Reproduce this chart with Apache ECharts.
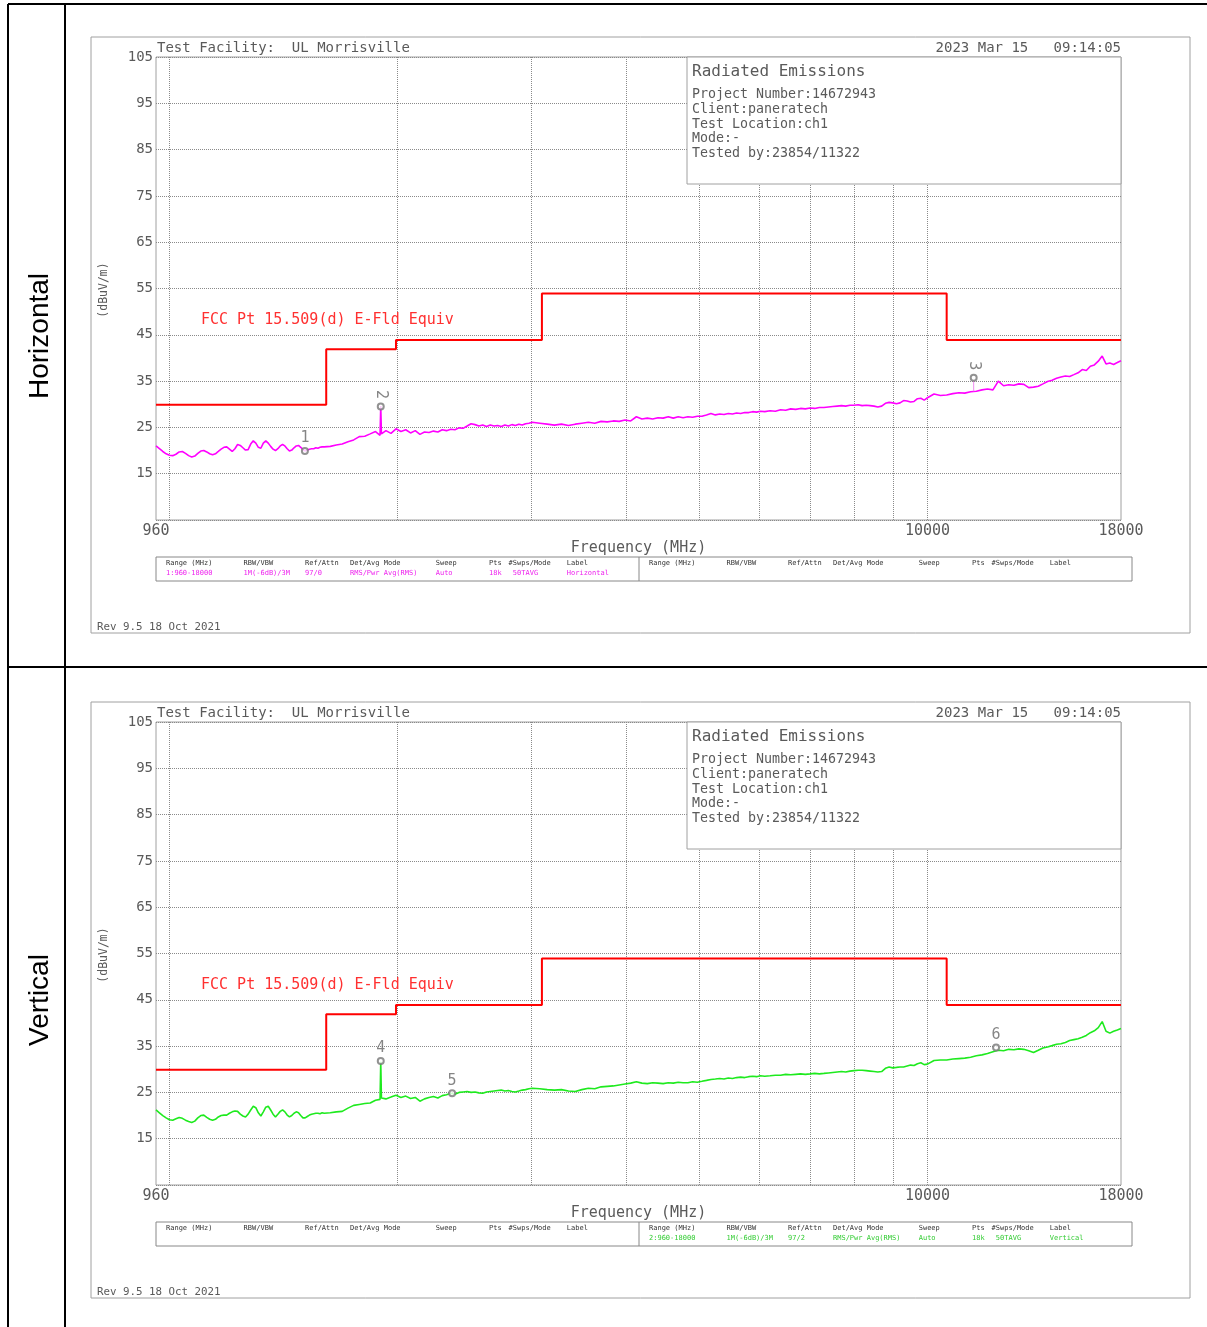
<!DOCTYPE html>
<html><head><meta charset="utf-8">
<script src="https://cdn.jsdelivr.net/npm/echarts@6/dist/echarts.min.js"></script>
<style>html,body{margin:0;padding:0;background:#fff}#c{width:1207px;height:1327px}</style>
</head><body><div id="c"></div>
<script>
// ---------- DATA ----------
const FREQ_A = [960,970,980,990,1000,1010,1020,1030,1040,1050,1060,1070,1080,1090,1100,1110,1120,1130,1140,1150,1160,1170,1180,1190,1200,1210,1220,1230,1240,1250,1260,1270,1280,1290,1300,1310,1320,1330,1340,1350,1360,1370,1380,1390,1400,1410,1420,1430,1440,1450,1460,1470,1480,1490,1500,1510,1520,1530,1540,1550,1560,1570,1580,1590,1600];
const H_A = [21.0,20.4,19.8,19.3,19.0,18.9,19.2,19.7,19.8,19.4,18.9,18.6,18.8,19.4,19.9,20.0,19.7,19.3,19.1,19.3,19.8,20.3,20.7,20.8,20.3,19.8,20.4,21.3,21.1,20.6,20.1,20.2,21.4,22.1,21.6,20.7,20.5,21.6,22.1,21.6,20.9,20.3,20.0,20.4,21.0,21.3,21.0,20.4,19.9,20.1,20.6,21.0,21.1,20.7,20.2,19.9,20.1,20.3,20.4,20.4,20.6,20.5,20.7,20.8,20.8];
const V_A = [21.2,20.6,20.0,19.5,19.1,19.0,19.3,19.6,19.4,19.0,18.7,18.5,18.8,19.5,20.0,20.1,19.6,19.2,19.0,19.2,19.7,20.0,20.1,20.1,20.5,20.8,21.0,20.9,20.3,19.9,19.7,20.3,21.2,22.0,21.7,20.6,19.9,20.8,21.8,22.0,21.2,20.3,19.7,20.3,20.9,21.2,20.8,20.1,19.7,20.0,20.5,20.8,20.6,20.0,19.5,19.5,19.8,20.1,20.3,20.4,20.5,20.5,20.4,20.6,20.5];

const FREQ_B = [1630,1660,1690,1720,1750,1780,1810,1840,1870,1896,1900,1904,1930,1960,1990,2020,2050,2080,2110,2140,2170,2200,2230,2260,2290,2320,2350,2380,2410,2440,2470,2500,2530,2560,2590,2620,2650,2680,2710,2740,2770,2800,2830,2860,2890,2920,2950,2980,3010];
const H_B = [20.9,21.2,21.4,21.9,22.3,23.0,23.1,23.6,24.1,23.3,29.6,23.6,24.3,23.7,24.7,24.1,24.5,23.8,24.3,23.5,24.0,23.9,24.2,24.0,24.5,24.3,24.6,24.5,24.9,24.8,25.3,25.8,25.6,25.3,25.5,25.2,25.5,25.3,25.4,25.2,25.5,25.3,25.6,25.4,25.7,25.5,25.8,25.9,26.1];
const V_B = [20.6,20.8,20.9,21.6,22.2,22.4,22.6,22.7,23.3,23.5,31.6,23.8,23.6,24.0,24.4,23.9,24.2,23.7,23.9,23.1,23.6,23.9,24.1,23.8,24.3,24.5,24.8,24.6,25.0,25.1,25.2,25.0,25.1,24.9,24.8,25.1,25.2,25.3,25.4,25.5,25.3,25.4,25.2,25.1,25.3,25.5,25.6,25.8,25.9];

const FREQ_C = [3080,3150,3220,3290,3360,3430,3500,3570,3640,3710,3780,3850,3920,3990,4060,4130,4200,4270,4340,4410,4480,4550,4620,4690,4760,4830,4900,4970,5040,5110,5180,5250,5320,5390,5460,5530,5600,5670,5740,5810,5880,5950,6020];
const H_C = [25.9,25.7,25.5,25.7,25.4,25.7,25.9,26.1,25.9,26.3,26.2,26.4,26.3,26.6,26.4,27.3,26.8,27.0,26.8,27.1,27.0,27.3,27.0,27.3,27.1,27.3,27.2,27.4,27.4,27.7,28.0,27.7,27.9,27.8,28.0,27.9,28.1,28.0,28.2,28.2,28.4,28.3,28.5];
const V_C = [25.8,25.6,25.5,25.6,25.3,25.2,25.6,25.9,25.8,26.2,26.3,26.4,26.6,26.8,27.0,27.3,27.0,26.9,27.1,27.0,26.9,27.1,27.0,27.2,27.1,27.1,27.3,27.2,27.4,27.6,27.8,27.9,28.0,27.9,28.1,28.0,28.2,28.3,28.2,28.4,28.5,28.4,28.6];

const FREQ_D = [6100,6200,6300,6400,6500,6600,6700,6800,6900,7000,7100,7200,7300,7400,7500,7600,7700,7800,7900,8000,8100,8200,8300,8400,8500,8600,8700,8800,8900,9000,9100,9200,9300,9400,9500,9600,9700,9800,9900,10000];
const H_D = [28.4,28.6,28.5,28.8,28.7,29.0,28.9,29.1,29.0,29.2,29.1,29.3,29.3,29.4,29.5,29.6,29.7,29.6,29.8,29.8,29.9,29.7,29.8,29.7,29.6,29.4,29.6,30.2,30.4,30.3,30.1,30.3,30.8,30.7,30.5,30.6,31.2,31.3,30.9,31.4];
const V_D = [28.5,28.6,28.7,28.7,28.9,28.8,28.9,29.0,28.9,29.0,29.1,29.0,29.1,29.2,29.3,29.4,29.5,29.4,29.6,29.7,29.8,29.8,29.7,29.6,29.5,29.4,29.5,30.2,30.5,30.3,30.4,30.5,30.5,30.7,30.9,30.8,31.2,31.4,31.0,31.1];

const FREQ_E = [10200,10400,10600,10800,11000,11200,11400,11600,11800,12000,12200,12400,12600,12800,13000,13200,13400,13600,13800,14000,14200,14400,14600,14800,15000,15200,15400,15600,15800,16000,16200,16400,16600,16800,17000,17200,17400,17600,17800,18000];
const H_E = [32.2,31.9,32.0,32.3,32.5,32.4,32.7,32.8,33.1,33.3,33.1,35.0,34.0,34.2,34.1,34.4,34.3,33.6,33.7,33.9,34.4,34.9,35.2,35.6,35.9,36.1,36.0,36.4,36.8,37.5,37.3,38.2,38.5,39.3,40.4,38.7,38.9,38.6,39.0,39.4];
const V_E = [31.9,32.0,32.0,32.2,32.3,32.4,32.6,32.9,33.1,33.4,33.8,34.1,34.0,34.3,34.2,34.4,34.3,34.0,33.6,34.1,34.6,34.8,35.1,35.4,35.5,35.8,36.2,36.4,36.6,36.9,37.3,37.9,38.3,39.0,40.3,38.2,37.8,38.2,38.5,38.8];

// FCC Pt 15.509(d) limit (value applies from each frequency up to the next)
const LIMIT_FREQ = [960,1610,1990,3100,10600,18000];
const LIMIT_DB   = [29.9,41.9,43.9,53.9,43.9,43.9];

const GRID_FREQS = [1000,2000,3000,4000,5000,6000,7000,8000,9000,10000];
const X_LABELS = [960,10000,18000];
const Y_MIN = 5, Y_MAX = 105, Y_STEP = 10;

const MARKERS_H = [['1',1509,19.9],['2',1900,29.5],['3',11506,35.7]];
const MARKERS_V = [['4',1900,31.8],['5',2360,24.8],['6',12316,34.7]];
const STEM_H3 = [[11506,35.2],[11506,32.8]];

const TABLE_HEAD = ['Range (MHz)','RBW/VBW','Ref/Attn','Det/Avg Mode','Sweep','Pts','#Swps/Mode','Label'];
const TABLE_H = ['1:960-18000','1M(-6dB)/3M','97/0','RMS/Pwr Avg(RMS)','Auto','18k',' 50TAVG','Horizontal'];
const TABLE_V = ['2:960-18000','1M(-6dB)/3M','97/2','RMS/Pwr Avg(RMS)','Auto','18k',' 50TAVG','Vertical'];

const INFO_LINES = ['Project Number:14672943','Client:paneratech','Test Location:ch1','Mode:-','Tested by:23854/11322'];

// ---------- BUILD ----------
const FREQ = FREQ_A.concat(FREQ_B, FREQ_C, FREQ_D, FREQ_E);
const HV = H_A.concat(H_B, H_C, H_D, H_E);
const VV = V_A.concat(V_B, V_C, V_D, V_E);
if (FREQ.length !== HV.length || FREQ.length !== VV.length) console.error('length mismatch', FREQ.length, HV.length, VV.length);
const zip = (xs, ys) => xs.map((x, i) => [x, ys[i]]);

const MONO = 'DejaVu Sans Mono';
const TXT = '#5a5a5a';
const MAG = '#ff00ff', GRN = '#1eea1e', RED = '#ff0000';
const PANEL_DY = [0, 665];

function txt(x, y, s, size, color, extra) {
  return Object.assign({
    type: 'text', x: x, y: y, z: 100,
    style: Object.assign({ text: s, font: size + 'px "' + MONO + '"', fill: color || TXT,
      align: 'left', verticalAlign: 'middle', textAlign: 'left', textVerticalAlign: 'middle' }, (extra && extra.style) || {})
  }, extra && extra.rotation !== undefined ? { rotation: extra.rotation } : {});
}
function line(x1, y1, x2, y2, color, w, z) {
  return { type: 'line', z: z || 100, shape: { x1, y1, x2, y2 }, style: { stroke: color, lineWidth: w } };
}

const COLS = [10, 87.6, 149, 194, 279.7, 333, 352.6, 410.8];
const graphics = [];
graphics.push(line(8, 4, 1207, 4, '#000', 2));
graphics.push(line(8, 667, 1207, 667, '#000', 2));
graphics.push(line(8, 4, 8, 1327, '#000', 2));
graphics.push(line(65, 4, 65, 1327, '#000', 2));
graphics.push({ type: 'text', x: 40, y: 336, rotation: Math.PI / 2, z: 100,
  style: { text: 'Horizontal', font: '28px "Liberation Sans"', fill: '#000', align: 'center', verticalAlign: 'middle', textAlign: 'center', textVerticalAlign: 'middle' } });
graphics.push({ type: 'text', x: 40, y: 1000, rotation: Math.PI / 2, z: 100,
  style: { text: 'Vertical', font: '28px "Liberation Sans"', fill: '#000', align: 'center', verticalAlign: 'middle', textAlign: 'center', textVerticalAlign: 'middle' } });

PANEL_DY.forEach((dy, p) => {
  graphics.push({ type: 'rect', z: 1, shape: { x: 91, y: 37 + dy, width: 1099, height: 596 }, style: { fill: null, stroke: '#a0a0a0', lineWidth: 1 } });
  graphics.push(txt(157, 48 + dy, 'Test Facility:  UL Morrisville', 14));
  graphics.push(txt(1121, 48 + dy, '2023 Mar 15   09:14:05', 14, TXT, { style: { align: 'right', textAlign: 'right' } }));
  graphics.push({ type: 'rect', z: 90, shape: { x: 687, y: 57 + dy, width: 434, height: 127 }, style: { fill: '#fff', stroke: '#a0a0a0', lineWidth: 1 } });
  graphics.push(txt(692, 72 + dy, 'Radiated Emissions', 16));
  INFO_LINES.forEach((s, i) => graphics.push(txt(692, 95 + dy + i * 14.6, s, 13.3)));
  graphics.push(txt(104, 290 + dy, '(dBuV/m)', 11.5, TXT, { rotation: Math.PI / 2, style: { align: 'center', textAlign: 'center' } }));
  graphics.push(txt(201, 320 + dy, 'FCC Pt 15.509(d) E-Fld Equiv', 15, '#ff3030'));
  graphics.push({ type: 'rect', z: 90, shape: { x: 156, y: 557 + dy, width: 976, height: 24 }, style: { fill: null, stroke: '#888', lineWidth: 1 } });
  graphics.push(line(639, 557 + dy, 639, 581 + dy, '#888', 1));
  [0, 483].forEach((ox, half) => {
    TABLE_HEAD.forEach((h, i) => graphics.push(txt(156 + ox + COLS[i], 563 + dy, h, 7, '#333')));
    const vals = (p === 0 && half === 0) ? TABLE_H : (p === 1 && half === 1) ? TABLE_V : null;
    if (vals) vals.forEach((v, i) => graphics.push(txt(156 + ox + COLS[i], 573 + dy, v, 7, p === 0 ? '#ee22ee' : '#33cc33')));
  });
  graphics.push(txt(97, 627 + dy, 'Rev 9.5 18 Oct 2021', 10.8));
});

const grids = PANEL_DY.map(dy => ({ left: 156, top: 57 + dy, width: 965, height: 463, show: true, borderColor: '#a0a0a0', borderWidth: 1, backgroundColor: 'transparent' }));

const xAxes = [0, 1].map(gi => ({
  type: 'log', logBase: 10, gridIndex: gi, min: 960, max: 18000,
  axisLine: { show: false }, axisTick: { show: false }, splitLine: { show: false },
  axisLabel: { margin: 4, color: TXT, fontFamily: MONO, fontSize: 15,
    formatter: v => { const r = Math.round(v); return X_LABELS.includes(r) ? String(r) : ''; } },
  name: 'Frequency (MHz)', nameLocation: 'middle', nameGap: 21,
  nameTextStyle: { color: TXT, fontFamily: MONO, fontSize: 15 }
}));
const yAxes = [0, 1].map(gi => ({
  type: 'value', gridIndex: gi, min: Y_MIN, max: Y_MAX, interval: Y_STEP,
  axisLine: { show: false }, axisTick: { show: false },
  splitLine: { show: true, lineStyle: { type: 'dotted', color: '#8a8a8a', width: 1 } },
  axisLabel: { margin: 3, color: TXT, fontFamily: MONO, fontSize: 14, formatter: v => v === Y_MIN ? '' : String(v) }
}));

const series = [];
[[HV, MAG, MARKERS_H], [VV, GRN, MARKERS_V]].forEach(([vals, col, marks], gi) => {
  series.push({
    type: 'line', xAxisIndex: gi, yAxisIndex: gi, step: 'end', showSymbol: false, silent: true, z: 3,
    data: zip(LIMIT_FREQ, LIMIT_DB), lineStyle: { color: RED, width: 2 },
    markLine: { silent: true, symbol: 'none', label: { show: false }, z: 1,
      lineStyle: { type: 'dotted', color: '#8a8a8a', width: 1 },
      data: GRID_FREQS.map(f => ({ xAxis: f })) }
  });
  series.push({
    type: 'line', xAxisIndex: gi, yAxisIndex: gi, showSymbol: false, silent: true, z: 4,
    data: zip(FREQ, vals), lineStyle: { color: col, width: 1.6 }
  });
  if (gi === 0) series.push({
    type: 'line', xAxisIndex: 0, yAxisIndex: 0, showSymbol: false, silent: true, z: 4,
    data: STEM_H3, lineStyle: { color: '#f08af0', width: 1 }
  });
  series.push({
    type: 'scatter', xAxisIndex: gi, yAxisIndex: gi, z: 5, silent: true,
    symbol: 'emptyCircle', symbolSize: 6,
    itemStyle: { color: '#777', borderColor: '#777', borderWidth: 1 },
    data: marks.map(m => ({
      value: [m[1], m[2]],
      label: (m[0] === '2' || m[0] === '3')
        ? { show: true, formatter: m[0], position: 'inside', offset: [-12, 0], rotate: -90, color: '#666', fontFamily: MONO, fontSize: 15 }
        : { show: true, formatter: m[0], position: 'top', distance: 1, color: '#666', fontFamily: MONO, fontSize: 15 }
    }))
  });
});

const chart = echarts.init(document.getElementById('c'), null, { renderer: 'canvas' });
chart.setOption({
  animation: false, backgroundColor: '#fff',
  grid: grids, xAxis: xAxes, yAxis: yAxes, series: series, graphic: graphics
});
</script></body></html>
